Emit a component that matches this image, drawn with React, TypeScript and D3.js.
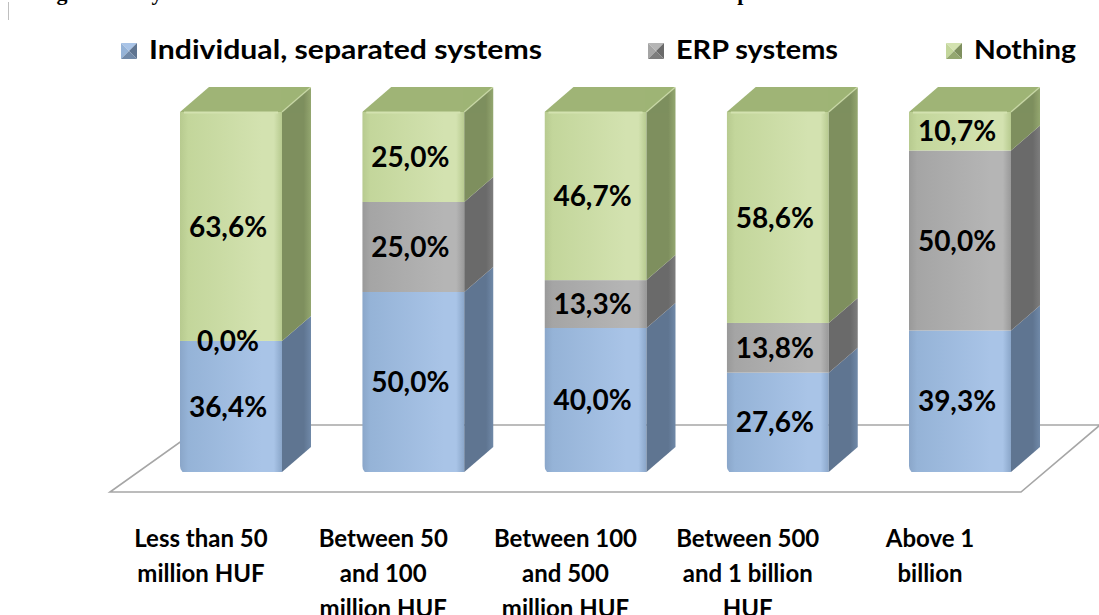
import React from 'react'
import * as d3 from 'd3'

const width = 1099
const height = 615

const categoryLines = [
  ['Less than 50', 'million HUF'],
  ['Between 50', 'and 100', 'million HUF'],
  ['Between 100', 'and 500', 'million HUF'],
  ['Between 500', 'and 1 billion', 'HUF'],
  ['Above 1', 'billion'],
]
const seriesNames = ['Individual, separated systems', 'ERP systems', 'Nothing']
const individualValues = [36.4, 50.0, 40.0, 27.6, 39.3]
const erpValues = [0.0, 25.0, 13.3, 13.8, 50.0]
const nothingValues = [63.6, 25.0, 46.7, 58.6, 10.7]

const palette = [
  { front: '#95b3d7', light: '#a9c4e7', dark: '#8aa6c9', side: '#5f7591', sideLight: '#7089a8', top: '#7f9bbd' },
  { front: '#a5a5a5', light: '#b5b5b5', dark: '#999999', side: '#6a6a6a', sideLight: '#7d7d7d', top: '#8c8c8c' },
  { front: '#c3d69b', light: '#d3e2b0', dark: '#b7ca8f', side: '#7e8f5e', sideLight: '#94a770', top: '#9fb476' },
]

// legend marker x and text widths
const legendX = [121, 648, 946]
const legendTextW = [393, 162, 102]

const font = 'Lato, "Open Sans", sans-serif'

const barW = 102
const depthX = 29
const depthY = 25

const fmt = (v: number) => v.toFixed(1).replace('.', ',') + '%'

export default function App() {
  const keys = ['s0', 's1', 's2']
  const rows = categoryLines.map((_, i) => ({
    i,
    s0: individualValues[i],
    s1: erpValues[i],
    s2: nothingValues[i],
  }))
  const stacked = d3.stack<any>().keys(keys)(rows)

  const x = d3.scalePoint<number>().domain(d3.range(categoryLines.length)).range([231, 960])
  const y = d3.scaleLinear().domain([0, 100]).range([472, 112])

  const base = y(0)
  const floorFront = base + 20
  const floorBack = base - 47
  const floor = [
    [110, floorFront],
    [1021, floorFront],
    [1100, floorBack],
    [204, floorBack],
  ]

  return (
    <svg width={width} height={height} style={{ position: 'absolute', left: 0, top: 0, background: '#fff' }}>
      <defs>
        {palette.map((p, k) => (
          <g key={k}>
            <linearGradient id={`front${k}`} x1="0" x2="1" y1="0" y2="0">
              <stop offset="0" stopColor={p.dark} />
              <stop offset="0.08" stopColor={p.front} />
              <stop offset="0.8" stopColor={p.light} />
              <stop offset="0.92" stopColor={p.light} />
              <stop offset="1" stopColor={p.dark} />
            </linearGradient>
            <linearGradient id={`side${k}`} x1="0" x2="1" y1="0" y2="0">
              <stop offset="0" stopColor={p.side} />
              <stop offset="0.75" stopColor={p.side} />
              <stop offset="1" stopColor={p.sideLight} />
            </linearGradient>
          </g>
        ))}
        {categoryLines.map((_, i) => {
          const xl = (x(i) as number) - barW / 2
          return (
            <clipPath key={i} id={`clip${i}`}>
              <rect x={xl} y={y(100) - depthY - 2} width={barW + depthX + 2} height={base - y(100) + depthY + 4} rx={8} />
            </clipPath>
          )
        })}
      </defs>

      {/* cropped caption line above the chart */}
      <text x={37} y={0} fontFamily='"Liberation Serif", serif' fontWeight="bold" fontSize={22}>
        Figure 10: Systems used at the firms of the different annual net revenue in percent
      </text>
      <line x1={8.5} x2={8.5} y1={2} y2={20} stroke="#bfbfbf" />

      {/* legend */}
      {seriesNames.map((name, k) => {
        const p = palette[k]
        const lx = legendX[k]
        const ly = 43
        const s = 16
        const cx = lx + s / 2
        const cy = ly + s / 2
        return (
          <g key={name}>
            <polygon points={`${lx},${ly} ${lx + s},${ly} ${cx},${cy}`} fill={p.light} />
            <polygon points={`${lx},${ly} ${cx},${cy} ${lx},${ly + s}`} fill={p.front} />
            <polygon points={`${lx + s},${ly} ${lx + s},${ly + s} ${cx},${cy}`} fill={p.side} />
            <polygon points={`${lx},${ly + s} ${cx},${cy} ${lx + s},${ly + s}`} fill={p.sideLight} />
            <text
              x={lx + 28}
              y={59}
              fontFamily={font}
              fontWeight="bold"
              fontSize={27}
              fill="#000"
              textLength={legendTextW[k]}
              lengthAdjust="spacingAndGlyphs"
            >
              {name}
            </text>
          </g>
        )
      })}

      {/* floor */}
      <polygon
        points={floor.map((d) => d.join(',')).join(' ')}
        fill="#fff"
        stroke="#a6a6a6"
        strokeWidth={1.6}
      />

      {/* bars */}
      {categoryLines.map((_, i) => {
        const xl = (x(i) as number) - barW / 2
        const xr = xl + barW
        const topY = y(100)
        const topSeries = stacked.length - 1
        return (
          <g key={i} clipPath={`url(#clip${i})`}>
            {stacked.map((series, k) => {
              const d = series[i]
              const y0 = y(d[0])
              const y1 = y(d[1])
              if (y0 - y1 <= 0) return null
              return (
                <g key={k}>
                  <rect x={xl} y={y1} width={barW} height={y0 - y1} fill={`url(#front${k})`} />
                  <polygon
                    points={`${xr},${y1} ${xr + depthX},${y1 - depthY} ${xr + depthX},${y0 - depthY} ${xr},${y0}`}
                    fill={`url(#side${k})`}
                  />
                </g>
              )
            })}
            <polygon
              points={`${xl},${topY} ${xl + depthX},${topY - depthY} ${xr + depthX},${topY - depthY} ${xr},${topY}`}
              fill={palette[topSeries].top}
            />
            <line x1={xl + 4} x2={xr - 4} y1={topY + 0.5} y2={topY + 0.5} stroke={palette[topSeries].light} strokeWidth={2} />
            <line x1={xr} x2={xr + depthX} y1={topY} y2={topY - depthY} stroke={palette[topSeries].light} strokeWidth={1.5} opacity={0.7} />
          </g>
        )
      })}

      {/* value labels */}
      {categoryLines.map((_, i) =>
        stacked.map((series, k) => {
          const d = series[i]
          const mid = (y(d[0]) + y(d[1])) / 2
          return (
            <text
              key={`${i}-${k}`}
              x={(x(i) as number) - 3}
              y={mid}
              dy="0.36em"
              textAnchor="middle"
              fontFamily={font}
              fontWeight="bold"
              fontSize={28}
              fill="#000"
            >
              {fmt(d.data[keys[k]])}
            </text>
          )
        })
      )}

      {/* category labels */}
      {categoryLines.map((lines, i) => (
        <text
          key={i}
          x={(x(i) as number) - 30}
          textAnchor="middle"
          fontFamily={font}
          fontWeight="bold"
          fontSize={24}
          fill="#000"
        >
          {lines.map((line, j) => (
            <tspan key={j} x={(x(i) as number) - 30} y={547 + j * 35}>
              {line}
            </tspan>
          ))}
        </text>
      ))}
    </svg>
  )
}
